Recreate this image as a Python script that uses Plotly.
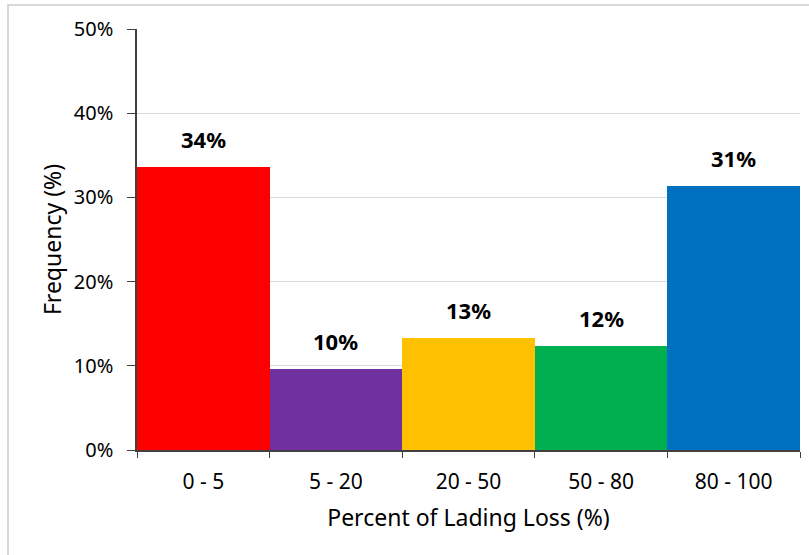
import plotly.graph_objects as go

categories = ["0 - 5", "5 - 20", "20 - 50", "50 - 80", "80 - 100"]
values = [33.6, 9.6, 13.3, 12.3, 31.4]
labels = ["34%", "10%", "13%", "12%", "31%"]
colors = ["#FF0000", "#7030A0", "#FFC000", "#00B050", "#0070C0"]
y_ticks = [0, 10, 20, 30, 40, 50]
y_ticklabels = ["0%", "10%", "20%", "30%", "40%", "50%"]

FONT = "Noto Sans"

fig = go.Figure()
fig.add_trace(go.Bar(
    x=categories, y=values, marker=dict(color=colors, line=dict(width=0)),
    width=1.0, showlegend=False, hoverinfo="skip",
))

for c, v, t in zip(categories, values, labels):
    fig.add_annotation(x=c, y=v, text="<b>" + t + "</b>", showarrow=False,
                       yanchor="bottom", yshift=11,
                       font=dict(family=FONT, size=22, color="#000000"))

W, H = 809, 555
ml, mr, mt, mb = 137, 9, 29, 105
pw, ph = W - ml - mr, H - mt - mb
x_left = (8 - ml) / pw
y_top = 1 + (mt - 5) / ph
fig.add_shape(type="path", xref="paper", yref="paper",
              path=f"M {x_left} -0.5 L {x_left} {y_top} L 1.2 {y_top}",
              line=dict(color="#D9D9D9", width=2))

fig.update_layout(
    width=W, height=H,
    margin=dict(l=ml, r=mr, t=mt, b=mb),
    paper_bgcolor="white", plot_bgcolor="white",
    bargap=0,
    font=dict(family=FONT, size=21, color="#000000"),
    xaxis=dict(
        type="category", tickson="boundaries", ticks="outside", ticklen=6,
        tickcolor="#404040", showline=True, linecolor="#404040", linewidth=1.5,
        showgrid=False, tickfont=dict(size=21), ticklabelstandoff=12,
        title=dict(text="Percent of Lading Loss (%)", font=dict(size=23), standoff=16),
        range=[-0.5, 4.5],
    ),
    yaxis=dict(
        range=[0, 50], tickvals=y_ticks, ticktext=y_ticklabels,
        ticks="outside", ticklen=8, tickcolor="#404040",
        showline=True, linecolor="#404040", linewidth=1.5,
        showgrid=True, gridcolor="#D9D9D9", gridwidth=1,
        tickfont=dict(size=20), ticklabelstandoff=10, zeroline=False,
        title=dict(text="Frequency (%)", font=dict(size=23), standoff=6),
    ),
)

fig.write_html("out.html")
